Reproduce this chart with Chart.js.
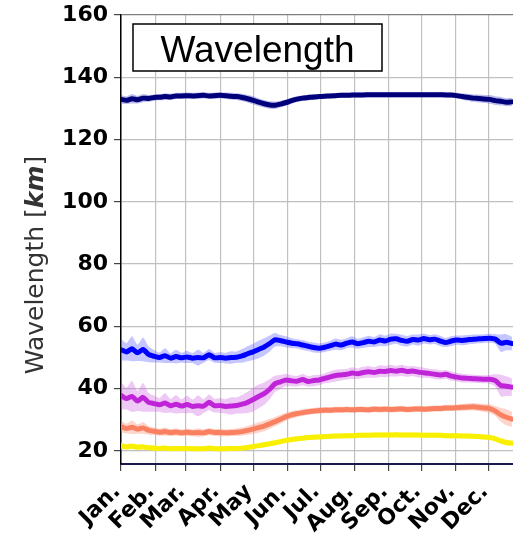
<!DOCTYPE html>
<html><head><meta charset="utf-8">
<script src="https://cdn.jsdelivr.net/npm/chart.js@4"></script>
<style>html,body{margin:0;padding:0;background:#fff;overflow:hidden}canvas{display:block}</style>
</head><body>
<canvas id="c" width="513" height="533"></canvas>
<script>
const days=[0,5,10,15,20,25,30,35,40,45,50,55,
60,65,70,75,80,85,90,95,100,105,110,115,
120,125,130,135,140,145,150,155,160,165,170,175,
180,185,190,195,200,205,210,215,220,225,230,235,
240,245,250,255,260,265,270,275,280,285,290,295,
300,305,310,315,320,325,330,335,340,345,350,355];

const navyMean=[132.9,132.6,133.1,132.8,133.3,133.2,133.5,133.6,133.8,133.7,134.0,134.0,
134.1,134.0,134.1,134.2,134.0,134.1,134.2,134.1,133.9,133.8,133.5,133.1,
132.6,132.0,131.5,131.1,131.0,131.4,131.9,132.5,133.0,133.3,133.5,133.7,
133.8,133.9,134.0,134.1,134.2,134.2,134.3,134.3,134.3,134.4,134.4,134.4,
134.4,134.4,134.4,134.4,134.4,134.4,134.4,134.4,134.4,134.4,134.4,134.3,
134.3,134.1,133.8,133.6,133.3,133.2,133.0,132.9,132.5,132.3,132.0,132.1];
const navySpread=[1.4,1.2,1.5,1.2,1.3,1.1,1.0,1.0,1.1,1.0,1.0,1.0,
1.0,1.0,1.0,1.0,1.0,1.0,1.0,1.0,1.1,1.1,1.2,1.2,
1.3,1.3,1.2,1.2,1.2,1.1,1.0,1.0,0.9,0.9,0.9,0.9,
0.8,0.8,0.8,0.8,0.8,0.8,0.8,0.8,0.8,0.8,0.8,0.8,
0.8,0.8,0.8,0.8,0.8,0.8,0.8,0.8,0.8,0.8,0.8,0.8,
0.8,0.9,1.0,1.1,1.2,1.3,1.3,1.4,1.4,1.4,1.3,1.3];

const blueMean=[52.5,51.8,52.8,51.5,52.6,51.0,50.4,50.0,50.6,49.8,50.3,49.9,
50.2,49.8,50.0,49.9,50.9,49.9,50.0,49.8,50.0,50.1,50.5,51.2,
51.8,52.6,53.4,54.5,55.7,55.4,55.0,54.6,54.4,54.0,53.6,53.2,
53.0,53.3,53.8,54.3,54.0,54.6,55.0,54.4,54.8,55.2,55.0,55.6,
55.3,55.9,56.0,55.5,55.2,55.8,55.6,56.1,55.7,55.9,55.3,54.8,
55.3,55.6,55.5,55.7,55.9,56.0,56.1,56.2,55.9,54.6,54.9,54.5];
const blueSpread=[3.5,2.8,4.0,2.6,3.8,2.5,2.0,1.6,2.4,1.6,2.2,1.6,
2.0,1.6,2.6,1.6,1.8,1.6,1.8,1.7,2.0,1.8,2.2,2.4,
2.6,2.8,2.8,2.6,2.2,1.8,1.8,1.6,1.5,1.6,1.5,1.6,
1.5,1.5,1.6,1.8,1.7,1.6,1.8,1.6,1.7,1.8,1.6,1.9,
1.7,1.8,1.6,1.8,1.7,1.6,1.8,1.6,1.5,1.6,1.7,1.5,
1.6,1.5,1.6,1.5,1.5,1.4,1.4,1.4,1.6,2.8,2.6,2.2];

const purpleMean=[37.8,36.8,37.5,36.0,37.2,35.6,35.2,34.8,35.4,34.5,35.0,34.4,
34.9,34.3,34.5,34.4,35.6,34.5,34.6,34.3,34.4,34.6,35.0,35.6,
36.5,37.5,38.4,39.8,41.6,42.2,42.8,42.5,42.4,42.9,42.3,42.6,
42.8,43.3,43.8,44.2,44.4,44.6,45.0,44.8,45.2,45.4,45.2,45.6,
45.5,45.8,45.6,45.9,45.5,45.7,45.3,45.1,44.9,44.6,44.4,44.6,
44.0,43.7,43.4,43.3,43.2,43.1,43.0,43.0,42.6,41.0,40.8,40.5];
const purpleSpread=[4.5,3.5,5.0,3.2,4.6,3.0,2.6,2.2,3.2,2.2,3.0,2.2,
2.8,2.2,3.4,2.2,2.5,2.2,2.4,2.3,2.8,2.6,3.0,3.4,
3.8,3.8,3.6,3.2,2.6,2.2,2.0,1.8,1.7,1.8,1.7,1.8,
1.7,1.6,1.8,1.9,1.8,1.7,1.9,1.7,1.8,1.9,1.7,1.9,
1.8,1.9,1.7,1.8,1.7,1.6,1.7,1.6,1.5,1.6,1.5,1.4,
1.5,1.4,1.4,1.3,1.3,1.3,1.3,1.4,2.0,3.5,3.2,2.8];

const salmonMean=[27.8,27.2,27.6,27.0,27.4,26.6,26.3,26.0,26.2,25.9,26.1,25.8,
26.0,25.8,25.9,25.8,26.2,25.9,25.9,25.8,25.9,26.0,26.2,26.6,
27.0,27.5,28.0,28.7,29.4,30.2,31.0,31.6,32.0,32.3,32.6,32.8,
33.0,33.1,33.1,33.2,33.2,33.3,33.2,33.3,33.3,33.2,33.4,33.3,
33.4,33.3,33.4,33.5,33.3,33.4,33.5,33.4,33.5,33.6,33.6,33.8,
33.8,33.9,34.0,34.1,34.2,34.0,33.8,33.6,32.8,31.6,30.8,30.2];
const salmonSpread=[2.0,1.6,2.2,1.5,1.9,1.4,1.2,1.1,1.3,1.1,1.2,1.1,
1.2,1.1,1.4,1.1,1.2,1.1,1.2,1.1,1.2,1.2,1.3,1.5,
1.6,1.7,1.7,1.6,1.5,1.4,1.3,1.2,1.1,1.1,1.0,1.0,
1.0,1.0,1.0,1.0,1.0,1.0,1.0,1.0,1.0,1.0,1.0,1.0,
1.0,1.0,1.0,1.0,1.0,1.0,1.0,1.0,1.0,1.0,1.0,1.0,
1.0,1.0,1.1,1.1,1.2,1.2,1.3,1.4,1.6,2.2,2.6,2.4];

const yellowMean=[21.6,21.3,21.5,21.2,21.3,21.0,20.9,20.8,20.9,20.7,20.8,20.7,
20.8,20.7,20.7,20.7,20.9,20.7,20.7,20.7,20.8,20.8,20.9,21.1,
21.4,21.7,22.0,22.3,22.6,23.0,23.4,23.7,23.9,24.1,24.3,24.4,
24.5,24.6,24.7,24.8,24.8,24.9,24.9,25.0,25.0,25.0,25.1,25.1,
25.1,25.1,25.2,25.1,25.1,25.1,25.1,25.0,25.0,25.0,25.0,24.9,
24.9,24.9,24.8,24.8,24.7,24.6,24.5,24.3,23.9,23.2,22.7,22.5];
const yellowSpread=[1.0,0.9,1.0,0.9,0.9,0.8,0.8,0.8,0.8,0.8,0.8,0.8,
0.8,0.8,0.8,0.8,0.8,0.8,0.8,0.8,0.8,0.8,0.8,0.8,
0.8,0.8,0.8,0.8,0.8,0.8,0.8,0.8,0.8,0.8,0.8,0.8,
0.8,0.8,0.8,0.8,0.8,0.8,0.8,0.8,0.8,0.8,0.8,0.8,
0.8,0.8,0.8,0.8,0.8,0.8,0.8,0.8,0.8,0.8,0.8,0.8,
0.8,0.8,0.8,0.8,0.8,0.8,0.8,0.8,0.9,1.0,1.0,1.0];

const monthTicks=[0,31,59,90,120,151,181,212,243,273,304,334];
const monthLabels=['Jan.','Feb.','Mar.','Apr.','May','Jun.','Jul.','Aug.','Sep.','Oct.','Nov.','Dec.'];
const yTicks=[20,40,60,80,100,120,140,160];
const boxTitle='Wavelength';

const series=[
  {mean:navyMean, spread:navySpread, line:'#00007a', band:'rgba(70,70,200,0.35)'},
  {mean:blueMean, spread:blueSpread, line:'#0000ff', band:'rgba(90,90,255,0.35)'},
  {mean:purpleMean, spread:purpleSpread, line:'#c024d8', band:'rgba(210,100,230,0.35)'},
  {mean:salmonMean, spread:salmonSpread, line:'#fa8062', band:'rgba(250,150,125,0.4)'},
  {mean:yellowMean, spread:yellowSpread, line:'#f8f000', band:'rgba(255,245,60,0.45)'}
];

const datasets=[];
series.forEach(s=>{
  datasets.push({data:days.map((d,i)=>({x:d,y:s.mean[i]+s.spread[i]})),fill:'+1',backgroundColor:s.band,borderColor:'rgba(0,0,0,0)',borderWidth:0,pointRadius:0,order:10,tension:0.2});
  datasets.push({data:days.map((d,i)=>({x:d,y:s.mean[i]-s.spread[i]})),fill:false,borderColor:'rgba(0,0,0,0)',borderWidth:0,pointRadius:0,order:10,tension:0.2});
});
series.forEach(s=>{
  datasets.push({data:days.map((d,i)=>({x:d,y:s.mean[i]})),fill:false,borderColor:s.line,borderWidth:5,pointRadius:0,order:1,tension:0.2,borderJoinStyle:'round',borderCapStyle:'round'});
});

const decor={
  id:'decor',
  afterDraw(chart){
    const ctx=chart.ctx;
    ctx.save();
    ctx.fillStyle='#fff';
    ctx.fillRect(133,24,249,47);
    ctx.strokeStyle='#000';ctx.lineWidth=1.5;
    ctx.strokeRect(133,24,249,47);
    ctx.fillStyle='#000';
    ctx.font='37px "Liberation Sans", Arial, sans-serif';
    ctx.textAlign='center';ctx.textBaseline='alphabetic';
    ctx.fillText(boxTitle,257.5,61.5);
    const parts=[
      {t:'Wavelength [',f:'25px "DejaVu Sans"'},
      {t:'km',f:'italic bold 25px "DejaVu Sans"'},
      {t:']',f:'25px "DejaVu Sans"'}
    ];
    let total=0;
    parts.forEach(p=>{ctx.font=p.f;p.w=ctx.measureText(p.t).width;total+=p.w;});
    ctx.translate(43,265);
    ctx.rotate(-Math.PI/2);
    ctx.fillStyle='#333';
    ctx.textAlign='left';
    let x=-total/2;
    parts.forEach(p=>{ctx.font=p.f;ctx.fillText(p.t,x,0);x+=p.w;});
    ctx.restore();
  }
};

new Chart(document.getElementById('c'),{
  type:'line',
  data:{datasets},
  plugins:[decor],
  options:{
    responsive:false,animation:false,
    layout:{padding:{top:15,left:0,right:0,bottom:0}},
    plugins:{legend:{display:false},tooltip:{enabled:false},title:{display:false}},
    scales:{
      x:{type:'linear',min:0,max:356,
        afterBuildTicks:s=>{s.ticks=monthTicks.map(v=>({value:v}));},
        afterFit:s=>{s.height=69;s.paddingLeft=0;s.paddingRight=0;},
        ticks:{autoSkip:false,minRotation:45,maxRotation:45,color:'#000',padding:8,labelOffset:-4,
          font:{family:'DejaVu Sans',weight:'bold',size:22},
          callback:(v,i)=>monthLabels[i]},
        grid:{color:'#c0c0c0',lineWidth:1.2,tickLength:7,tickColor:'#444'},
        border:{color:'#1a1a50',width:2}
      },
      y:{min:15.8,max:160,
        afterBuildTicks:s=>{s.ticks=yTicks.map(v=>({value:v}));},
        afterFit:s=>{s.width=121;s.paddingTop=0;s.paddingBottom=0;},
        ticks:{color:'#000',padding:6,font:{family:'DejaVu Sans',weight:'bold',size:22}},
        grid:{color:c=>(c.tick&&c.tick.value===160)?'#808080':'#c0c0c0',lineWidth:1.2,tickLength:7,tickColor:'#444'},
        border:{color:'#000',width:1.5}
      }
    }
  }
});
</script>
</body></html>
